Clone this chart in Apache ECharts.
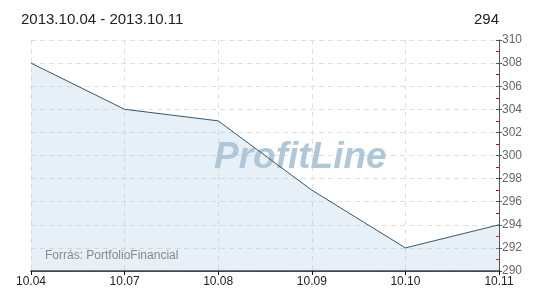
<!DOCTYPE html>
<html>
<head>
<meta charset="utf-8">
<script src="https://cdn.jsdelivr.net/npm/echarts@6/dist/echarts.min.js"></script>
<style>
html,body{margin:0;padding:0;background:#fff;}
#c{width:550px;height:300px;}
</style>
</head>
<body>
<div id="c"></div>
<script>
const categories = ['10.04', '10.07', '10.08', '10.09', '10.10', '10.11'];
const prices = [308, 304, 303, 297, 292, 294];
const yMin = 290, yMax = 310, yStep = 2;
const titleText = '2013.10.04 - 2013.10.11';
const lastValueText = '294';
const sourceText = 'Forrás: PortfolioFinancial';
const watermarkText = 'ProfitLine';

const chart = echarts.init(document.getElementById('c'), null, {renderer: 'canvas'});
const font = '"Liberation Sans", Arial, sans-serif';
chart.setOption({
  animation: false,
  backgroundColor: '#fff',
  textStyle: {fontFamily: font},
  grid: {left: 31, right: 51, top: 40, bottom: 29},
  graphic: [
    {type: 'text', left: 21, top: 12, style: {text: titleText, font: '15px ' + font, fill: '#222'}},
    {type: 'text', right: 51, top: 12, style: {text: lastValueText, font: '15px ' + font, fill: '#222'}},
    {type: 'text', left: 45, top: 250, z: 10, style: {text: sourceText, font: '12px ' + font, fill: '#888'}},
    {type: 'text', left: 214, top: 139, z: 10, style: {text: watermarkText, font: 'italic bold 37px ' + font, fill: '#aec8d9'}}
  ],
  xAxis: {
    type: 'category',
    data: categories,
    boundaryGap: false,
    axisLine: {lineStyle: {color: '#111', width: 1.5}},
    axisTick: {show: true, length: 4, lineStyle: {color: '#111'}},
    axisLabel: {color: '#222', fontSize: 12, margin: 5, fontFamily: font},
    splitLine: {show: true, lineStyle: {color: '#e0e0e0', type: [5, 4]}}
  },
  yAxis: [
    {
      type: 'value', position: 'right', min: yMin, max: yMax, interval: yStep,
      axisLine: {show: true, lineStyle: {color: '#555'}},
      axisTick: {show: true, length: 3, lineStyle: {color: '#555'}},
      axisLabel: {color: '#666', fontSize: 12, margin: 3, fontFamily: font},
      splitLine: {show: true, lineStyle: {color: '#e0e0e0', type: [5, 4]}}
    },
    {
      type: 'value', position: 'right', min: yMin, max: yMax, interval: yStep,
      axisLine: {show: false},
      axisTick: {show: true, inside: true, length: 3, lineStyle: {color: '#555'}},
      minorTick: {show: true, splitNumber: 2, length: 3, lineStyle: {color: '#e00000'}},
      axisLabel: {show: false},
      splitLine: {show: false}
    }
  ],
  series: [
    {
      type: 'line',
      data: prices,
      yAxisIndex: 0,
      symbol: 'none',
      z: 1,
      lineStyle: {width: 0, opacity: 0},
      areaStyle: {color: 'rgba(175,202,228,0.3)', opacity: 1, origin: 'start'}
    },
    {
      type: 'line',
      data: prices,
      yAxisIndex: 0,
      symbol: 'none',
      z: 20,
      lineStyle: {color: '#3b566a', width: 1}
    }
  ]
});
</script>
</body>
</html>
